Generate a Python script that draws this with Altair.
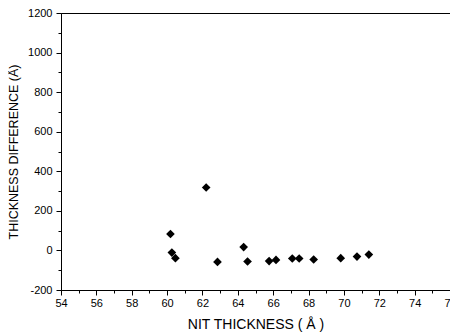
import altair as alt
import pandas as pd

nit_thickness = [60.19, 60.27, 60.47, 62.21, 62.85, 64.33, 64.55, 65.77, 66.16,
                 67.08, 67.47, 68.29, 69.82, 70.74, 71.41]
thickness_diff = [83, -11, -39, 318, -58, 17, -56, -54, -48,
                  -41, -41, -46, -39, -31, -21]

x_ticks = list(range(54, 77))
y_ticks = list(range(-200, 1201, 100))

df = pd.DataFrame({"x": nit_thickness, "y": thickness_diff})

font = "Liberation Sans"

chart = alt.Chart(df).mark_point(
    shape="diamond", filled=True, color="black", opacity=1, size=75
).encode(
    x=alt.X("x:Q",
            scale=alt.Scale(domain=[54, 76], nice=False, zero=False),
            axis=alt.Axis(
                title="NIT THICKNESS ( Å )",
                values=x_ticks,
                labelExpr="datum.value % 2 == 0 ? datum.value : ''",
                tickSize={"condition": {"test": "datum.value % 2 != 0", "value": 3}, "value": 5},
                grid=False, domainColor="black", tickColor="black",
                labelColor="black", labelFont=font, labelFontSize=11,
                labelPadding=2, labelFlush=False, labelOverlap=False,
                titleFont=font, titleFontSize=14, titleFontWeight="normal",
                titleColor="black", titlePadding=9,
            )),
    y=alt.Y("y:Q",
            scale=alt.Scale(domain=[-200, 1200], nice=False, zero=False),
            axis=alt.Axis(
                title="THICKNESS DIFFERENCE (Å)",
                values=y_ticks,
                labelExpr="datum.value % 200 == 0 ? datum.value : ''",
                tickSize={"condition": {"test": "datum.value % 200 != 0", "value": 3}, "value": 5},
                grid=False, domainColor="black", tickColor="black",
                labelColor="black", labelFont=font, labelFontSize=11,
                labelPadding=4, labelFlush=False, labelOverlap=False,
                titleFont=font, titleFontSize=12.5, titleFontWeight="normal",
                titleColor="black", titlePadding=7,
            )),
).properties(
    width=389, height=277,
    autosize=alt.AutoSizeParams(type="none"),
    padding={"left": 53, "top": 5, "right": 0, "bottom": 44},
).configure_view(
    stroke="black", strokeWidth=1
)

chart.save("out.html", embed_options={"renderer": "svg", "actions": False})
